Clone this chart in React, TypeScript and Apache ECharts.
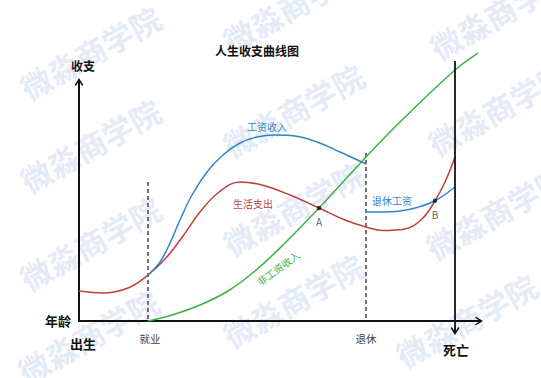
import React, { useEffect, useRef } from "react";
import * as echarts from "echarts";

// ---- data (age on x, money on y, arbitrary units) ----
const ageMin = 0;
const ageMax = 100;
const moneyMin = 0;
const moneyMax = 100;

const jobAge = 17.25;
const retireAge = 71.75;
const deathAge = 94;
const jobLineTop = 58.2;
const retireLineTop = 70.3;
const deathLineTop = 108.8;
const deathLineBottom = -4.2;

const expenseAges = [0, 6, 12.25, 17.25, 21.75, 26, 30.25, 34.75, 40.25, 45.75, 52.75, 60, 66.5, 71.75, 76, 81.5, 85.75, 89, 91.5, 94];
const expenseValues = [12.55, 11.72, 13.81, 19.25, 26.36, 35.56, 45.61, 53.56, 58.16, 56.9, 52.72, 47.28, 42.26, 39.33, 37.87, 38.49, 42.68, 50.3, 58.16, 68.62];

const wageAges = [17.25, 20.25, 22.75, 25.25, 28.25, 32, 36, 40.25, 44.5, 49, 54, 59.5, 65.25, 71.75];
const wageValues = [19.25, 24.69, 32.64, 42.26, 52.72, 62.34, 69.46, 74.48, 76.99, 77.82, 77.41, 74.9, 70.71, 65.69];

const pensionAges = [71.75, 75.25, 80.25, 84.5, 89, 94];
const pensionValues = [45.61, 45.61, 46.03, 47.49, 50.3, 56.07];

const passiveAges = [17.25, 23.25, 30.25, 37.25, 44, 51.5, 60, 71.75, 80.25, 94, 99.75];
const passiveValues = [0, 2.51, 6.69, 12.55, 20.92, 32.64, 47.28, 68.62, 83.26, 105.02, 112.13];

const crossNames = ["A", "B"];
const crossAges = [60, 89];
const crossValues = [47.28, 50.3];

const titleText = "人生收支曲线图";
const watermarkText = "微淼商学院";

const zip = (xs: number[], ys: number[]) => xs.map((x, i) => [x, ys[i]]);

const chevron =
  "path://M5,0 L10,8 L8.6,9.2 L5.8,4.7 L5.8,9.2 L4.2,9.2 L4.2,4.7 L1.4,9.2 L0,8 Z";

const CJK = '"Noto Sans CJK SC", "Noto Sans", sans-serif';

const BLUE = "#2f86c6";
const RED = "#c0403a";
const GREEN = "#3cb043";
const SMOOTH = 0.4;

const watermarkCenters = [
  [90, 52], [90, 145], [90, 243], [88, 336],
  [293, 5], [293, 110], [293, 208], [293, 300],
  [500, 12], [498, 108], [496, 212], [466, 320],
];

function txt(
  text: string,
  x: number,
  y: number,
  size: number,
  color: string,
  bold = false,
  rotation = 0
) {
  return {
    type: "text",
    x,
    y,
    rotation,
    z: 10,
    style: {
      text,
      fill: color,
      fontSize: size,
      fontWeight: bold ? "bold" : "normal",
      fontFamily: CJK,
      align: "center",
      verticalAlign: "middle",
      textAlign: "center",
      textVerticalAlign: "middle",
    },
  };
}

function curve(name: string, xs: number[], ys: number[], color: string) {
  return {
    name,
    type: "line",
    data: zip(xs, ys),
    smooth: SMOOTH,
    symbol: "none",
    clip: false,
    lineStyle: { color, width: 1.5 },
    z: 3,
  };
}

export default function App() {
  const ref = useRef<HTMLDivElement>(null);

  useEffect(() => {
    if (!ref.current) return;
    const chart = echarts.init(ref.current, undefined, { renderer: "svg" });

    const watermarks = watermarkCenters.map(([x, y]) => ({
      type: "text",
      x,
      y,
      rotation: (29 * Math.PI) / 180,
      z: -10,
      silent: true,
      style: {
        text: watermarkText,
        fill: "rgba(185,202,236,0.40)",
        fontSize: 31,
        fontWeight: "bold",
        fontFamily: CJK,
        align: "center",
        verticalAlign: "middle",
        textAlign: "center",
        textVerticalAlign: "middle",
      },
    }));

    const axisCommon = {
      axisTick: { show: false },
      axisLabel: { show: false },
      splitLine: { show: false },
    };

    const option: any = {
      animation: false,
      backgroundColor: "#ffffff",
      grid: { left: 79, right: 62, top: 82, bottom: 57, containLabel: false },
      xAxis: {
        type: "value",
        min: ageMin,
        max: ageMax,
        axisLine: {
          show: true,
          onZero: false,
          symbol: ["none", chevron],
          symbolSize: [9, 8],
          lineStyle: { color: "#111", width: 2 },
        },
        ...axisCommon,
      },
      yAxis: {
        type: "value",
        min: moneyMin,
        max: moneyMax,
        axisLine: {
          show: true,
          onZero: false,
          symbol: ["none", chevron],
          symbolSize: [9, 8],
          lineStyle: { color: "#111", width: 2 },
        },
        ...axisCommon,
      },
      graphic: [
        ...watermarks,
        txt(titleText, 257, 50, 12, "#111", true),
        txt("收支", 83, 65, 12, "#111", true),
        txt("年龄", 58, 320, 13, "#111", true),
        txt("出生", 83, 343, 13, "#111", true),
        txt("死亡", 456, 349, 13, "#111", true),
        txt("就业", 150, 338, 10.5, "#444"),
        txt("退休", 366, 338, 10.5, "#444"),
        txt("工资收入", 267, 126, 10, BLUE),
        txt("生活支出", 253, 203, 10, RED),
        txt("退休工资", 392, 200, 10, BLUE),
        txt("非工资收入", 278, 268, 10, GREEN, false, (36 * Math.PI) / 180),
      ],
      series: [
        curve("非工资收入", passiveAges, passiveValues, GREEN),
        curve("生活支出", expenseAges, expenseValues, RED),
        curve("工资收入", wageAges, wageValues, BLUE),
        curve("退休工资", pensionAges, pensionValues, BLUE),
        {
          name: "就业",
          type: "line",
          data: [
            [jobAge, jobLineTop],
            [jobAge, moneyMin],
          ],
          symbol: "none",
          clip: false,
          lineStyle: { color: "#444", width: 1.5, type: [4, 3] },
          z: 2,
        },
        {
          name: "退休",
          type: "line",
          data: [
            [retireAge, retireLineTop],
            [retireAge, moneyMin],
          ],
          symbol: "none",
          clip: false,
          lineStyle: { color: "#444", width: 1.5, type: [4, 3] },
          z: 2,
        },
        {
          name: "死亡",
          type: "line",
          symbol: chevron,
          symbolSize: [9, 8],
          showSymbol: true,
          data: [
            { value: [deathAge, deathLineTop], symbol: "none" },
            { value: [deathAge, deathLineBottom], symbolRotate: 180 },
          ],
          clip: false,
          itemStyle: { color: "#111" },
          lineStyle: { color: "#111", width: 1.8 },
          z: 4,
        },
        {
          name: "交点",
          type: "scatter",
          data: crossNames.map((n, i) => ({ name: n, value: [crossAges[i], crossValues[i]] })),
          symbolSize: 4.5,
          clip: false,
          itemStyle: { color: "#111" },
          label: {
            show: true,
            position: "bottom",
            distance: 6,
            formatter: "{b}",
            color: "#333",
            fontSize: 10,
            fontFamily: CJK,
          },
          z: 5,
        },
      ],
    };

    chart.setOption(option);
    return () => chart.dispose();
  }, []);

  return (
    <div
      ref={ref}
      style={{ position: "fixed", left: 0, top: 0, width: 541, height: 378, background: "#fff" }}
    />
  );
}
